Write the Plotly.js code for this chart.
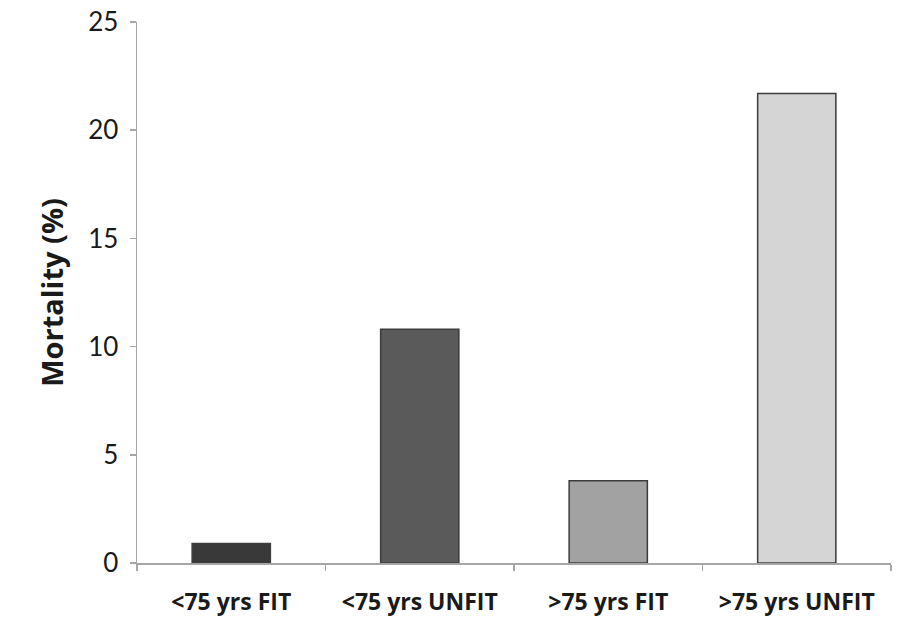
<!DOCTYPE html>
<html>
<head>
<meta charset="utf-8">
<script src="https://cdn.plot.ly/plotly-3.0.1.min.js"></script>
<style>html,body{margin:0;padding:0;background:#fff;}#chart{width:919px;height:621px;}</style>
</head>
<body>
<div id="chart"></div>
<script>
const categories = ["<75 yrs FIT", "<75 yrs UNFIT", ">75 yrs FIT", ">75 yrs UNFIT"];
const mortality = [0.9, 10.8, 3.8, 21.7];
const barColors = ["#393939", "#5a5a5a", "#a2a2a2", "#d5d5d5"];
const yTicks = [0, 5, 10, 15, 20, 25];

const trace = {
  type: "bar",
  x: categories,
  y: mortality,
  marker: { color: barColors, line: { color: "#3c3c3c", width: 1.5 } },
  hoverinfo: "skip"
};

const layout = {
  width: 919, height: 621,
  margin: { l: 137, r: 28, t: 22, b: 58 },
  paper_bgcolor: "#fff", plot_bgcolor: "#fff",
  showlegend: false,
  bargap: 0.585,
  font: { family: "Lato, Open Sans, sans-serif", color: "#1a1a1a" },
  xaxis: {
    type: "category",
    showline: true, linecolor: "#a6a6a6", linewidth: 1.5,
    showgrid: false, zeroline: false,
    ticks: "outside", tickson: "boundaries", ticklen: 6, tickcolor: "#a6a6a6", tickwidth: 1.5,
    ticklabelstandoff: 18,
    tickfont: { size: 23, family: "Open Sans, sans-serif", weight: "bold", color: "#1a1a1a" }
  },
  yaxis: {
    range: [0, 25],
    tickvals: yTicks,
    showline: true, linecolor: "#a6a6a6", linewidth: 1.5,
    showgrid: false, zeroline: false,
    ticks: "outside", ticklen: 6, tickcolor: "#a6a6a6", tickwidth: 1.5,
    ticklabelstandoff: 6,
    tickfont: { size: 26, color: "#1a1a1a" },
    title: { text: "Mortality (%)", font: { size: 29, family: "Open Sans, sans-serif", weight: "bold", color: "#1a1a1a" }, standoff: 16 }
  }
};

Plotly.newPlot("chart", [trace], layout, { displayModeBar: false, staticPlot: true });
</script>
</body>
</html>
